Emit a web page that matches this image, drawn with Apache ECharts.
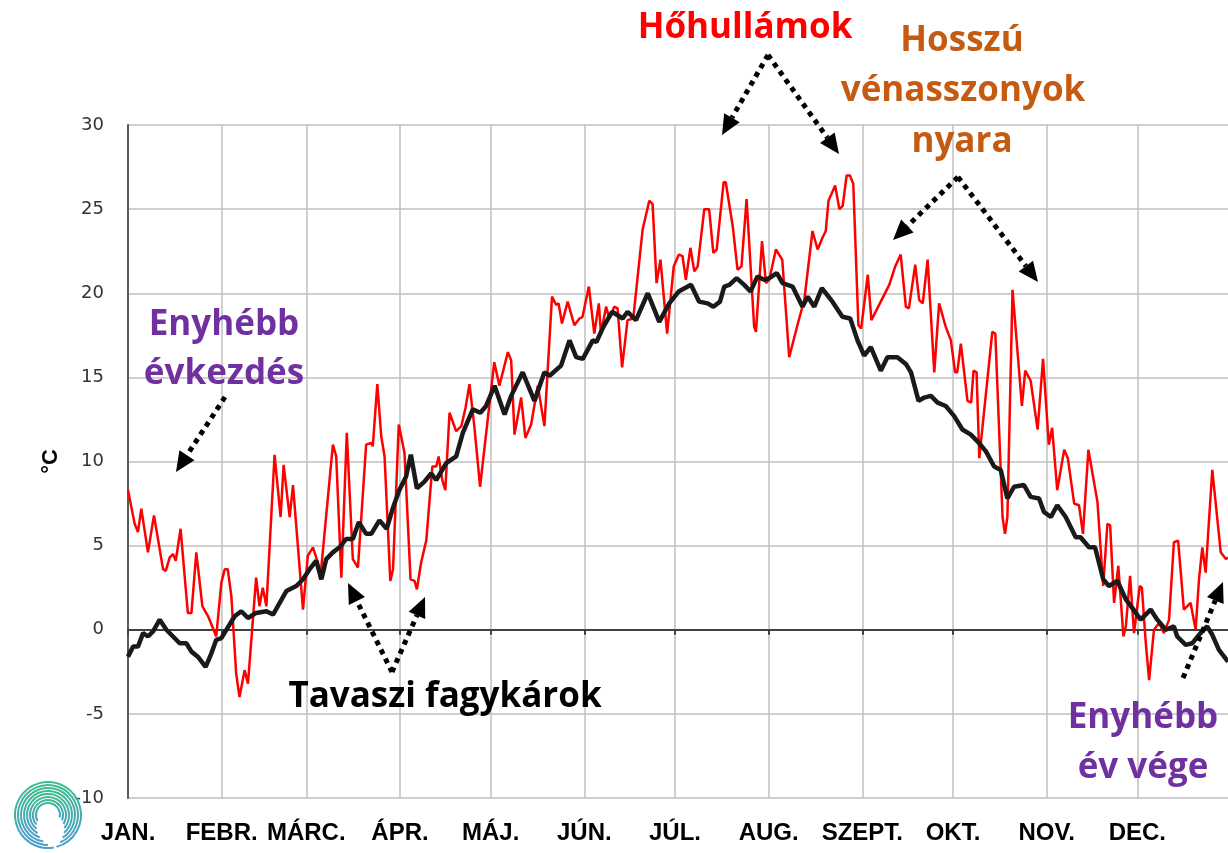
<!DOCTYPE html>
<html>
<head>
<meta charset="utf-8">
<title>Napi középhőmérséklet</title>
<script src="https://cdn.jsdelivr.net/npm/echarts@6/dist/echarts.min.js"></script>
<style>
  html, body { margin: 0; padding: 0; background: #fff; }
  #chart { width: 1228px; height: 853px; }
</style>
</head>
<body>
<div id="chart"></div>
<script>
// hónapok és kezdőnapjaik (az év napja, 0-tól)
const monthNames = ['JAN.', 'FEBR.', 'MÁRC.', 'ÁPR.', 'MÁJ.', 'JÚN.', 'JÚL.', 'AUG.', 'SZEPT.', 'OKT.', 'NOV.', 'DEC.'];
const monthStarts = [0, 31, 59, 90, 120, 151, 181, 212, 243, 273, 304, 334];
const yMin = -10, yMax = 30, yStep = 5;

// piros: az adott év napi középhőmérséklete [nap, °C]
const warmYear = [
  [0, 8.3], [2.2, 6.3], [3.3, 5.8], [4.4, 7.2], [6.6, 4.6], [8.6, 6.8], [11.6, 3.6], [12.5, 3.5],
  [13.8, 4.3], [14.9, 4.5], [15.8, 4.1], [17.4, 6.0], [19.8, 1.0], [21, 1.0], [22.6, 4.6], [24.6, 1.4],
  [26.5, 0.8], [27.2, 0.5], [29.2, -0.4], [30.9, 2.8], [32, 3.6], [33, 3.6], [34.2, 2.0], [35.8, -2.6],
  [36.9, -4.0], [38.6, -2.4], [39.7, -3.2], [42.4, 3.1], [43.5, 1.4], [44.6, 2.5], [45.8, 1.4], [48.5, 10.4],
  [50.5, 6.7], [51.5, 9.8], [53.5, 6.7], [54.6, 8.6], [57.9, 1.2], [59.5, 4.4], [61.2, 4.9], [62.8, 4.0],
  [63.6, 3.0], [67.8, 11.0], [68.9, 10.3], [70.6, 3.1], [72.4, 11.7], [74.4, 4.2], [76.1, 3.7], [78.8, 11.0],
  [80.5, 11.1], [81, 10.9], [82.5, 14.6], [83.8, 11.5], [84.9, 10.3], [86.8, 2.9], [87.7, 3.6], [89.6, 12.2],
  [91.5, 10.5], [93.5, 3.0], [94.8, 2.9], [95.6, 2.4], [97, 4.0], [98.7, 5.3], [100.7, 9.7], [102, 9.7],
  [102.8, 10.3], [104, 8.9], [105, 8.3], [106.4, 12.9], [108.6, 11.8], [110.3, 12.1], [111.7, 13.2], [113, 14.6],
  [114.6, 12.1], [116.5, 8.5], [121.2, 15.9], [122.9, 14.5], [125.7, 16.5], [126.8, 16.0], [127.9, 11.6], [130.1, 13.8],
  [131.5, 11.4], [133.4, 12.2], [135.6, 14.5], [137.8, 12.1], [140.3, 19.8], [141.7, 19.3], [142.5, 19.4], [143.6, 18.2],
  [145.5, 19.5], [147.7, 18.1], [149.4, 18.5], [150.4, 18.6], [152.5, 20.4], [154.3, 17.6], [155.8, 19.4], [156.5, 17.6],
  [158.2, 19.2], [159.3, 18.5], [160.9, 19.2], [162, 19.1], [163.5, 15.6], [165.3, 18.4], [167.2, 18.5], [170.3, 23.8],
  [172.5, 25.5], [173.6, 25.3], [174.9, 20.6], [176.2, 22.0], [178.4, 17.6], [180.6, 21.6], [182.3, 22.3], [183.5, 22.2],
  [184.6, 20.8], [186.1, 22.7], [187.4, 21.3], [188.5, 21.6], [190.7, 25.0], [192.3, 25.0], [193.7, 22.4], [194.8, 22.6],
  [197.1, 26.6], [197.8, 26.6], [200.1, 24.0], [201.7, 21.4], [203, 21.6], [204.7, 25.6], [207.2, 18.0], [207.8, 17.7],
  [209.8, 23.1], [211.1, 20.6], [212.2, 20.8], [214.4, 22.6], [216.5, 22.0], [218.8, 16.2], [222.1, 18.5], [223.8, 19.6],
  [226.5, 23.7], [228.2, 22.6], [229.8, 23.3], [230.9, 23.7], [231.8, 25.5], [234, 26.4], [235.4, 25.0], [236.5, 25.2],
  [237.8, 27.0], [238.9, 27.0], [240, 26.5], [241.7, 18.1], [242.6, 17.9], [244.8, 21.1], [246, 18.4], [249.1, 19.5],
  [251.9, 20.5], [253.9, 21.6], [255.7, 22.3], [257.4, 19.2], [258.4, 19.1], [260.5, 21.7], [261.8, 19.6], [263, 19.4],
  [264.6, 22.0], [266.8, 15.3], [268.4, 19.4], [270.6, 18.0], [272.3, 17.2], [273.7, 15.3], [274.4, 15.3], [275.6, 17.0],
  [277.8, 13.6], [279, 13.5], [279.8, 15.4], [280.8, 15.3], [281.7, 10.2], [286, 17.7], [287, 17.6], [289.4, 6.7],
  [290.2, 5.7], [291, 6.7], [292.7, 20.2], [295.8, 13.3], [296.9, 15.4], [298.7, 14.8], [301, 11.9], [302.8, 16.1],
  [304.7, 11.0], [305.8, 12.0], [307.5, 8.3], [309.8, 10.7], [311, 10.2], [313.1, 7.5], [314.7, 7.4], [316, 5.7],
  [317.8, 10.7], [320.8, 7.6], [322.7, 2.6], [324.1, 6.3], [325, 6.2], [326.3, 1.6], [327.7, 3.8], [329.4, -0.4],
  [330.2, 0.2], [331.6, 3.2], [332.9, -0.2], [334.8, 2.6], [335.5, 2.5], [336.8, -0.8], [337.9, -3.0], [339.5, 0],
  [341.2, 0.4], [342.8, -0.2], [344.5, 0.6], [346.1, 5.2], [347.5, 5.3], [349.4, 1.2], [351.6, 1.6], [353.3, 0],
  [354.4, 3.0], [355.5, 4.9], [356.6, 3.4], [358.8, 9.5], [361.6, 4.6], [363.3, 4.2], [364, 4.3]
];

// fekete: sokéves átlag [nap, °C]
const normal = [
  [0, -1.6], [1.7, -1.0], [3.3, -1.0], [5, -0.2], [6.6, -0.4], [8.3, -0.1], [10.5, 0.6], [12.7, 0],
  [14.9, -0.4], [17.1, -0.8], [19.3, -0.8], [21, -1.3], [23.1, -1.6], [25.7, -2.2], [27.6, -1.4], [29.2, -0.6],
  [30.9, -0.5], [33.6, 0.3], [35.3, 0.8], [37.5, 1.1], [39.7, 0.7], [42.4, 1.0], [45.8, 1.1], [48, 0.9],
  [50.2, 1.6], [52.4, 2.3], [55.7, 2.6], [57.9, 3.0], [60.1, 3.6], [62.3, 4.1], [64, 3.0], [65.6, 4.2],
  [67.8, 4.6], [70, 4.9], [72.2, 5.4], [74.4, 5.4], [76.4, 6.4], [78.8, 5.7], [80.5, 5.7], [83.2, 6.5],
  [85.6, 6.0], [87.6, 7.2], [89.8, 8.3], [92, 9.1], [93.6, 10.4], [95.6, 8.4], [98.1, 8.8], [100.3, 9.3],
  [102, 8.9], [105.3, 9.9], [108.6, 10.3], [110.8, 11.7], [114.1, 13.1], [116.6, 12.9], [118.5, 13.3], [121.3, 14.5],
  [124.6, 12.8], [126.8, 13.9], [130.6, 15.3], [134.5, 13.6], [137.8, 15.3], [139.5, 15.1], [143.3, 15.7], [146.1, 17.2],
  [148.3, 16.2], [150.5, 16.1], [153.8, 17.2], [155, 17.1], [157.3, 18.0], [160.2, 18.9], [163.7, 18.5], [165.3, 18.9],
  [168.1, 18.4], [172, 20.0], [175.8, 18.3], [179.1, 19.4], [182.2, 20.1], [186.3, 20.5], [189, 19.5], [191.8, 19.4],
  [193.7, 19.2], [195.9, 19.5], [197.3, 20.4], [199, 20.5], [201.4, 20.9], [203.9, 20.5], [206, 20.1], [208.3, 21.0],
  [210.5, 20.8], [212.2, 20.9], [214.7, 21.2], [216.6, 20.6], [219.9, 20.4], [223.2, 19.2], [224.9, 19.8], [227.1, 19.2],
  [229.6, 20.3], [233.1, 19.5], [236.4, 18.6], [239, 18.5], [241.4, 17.2], [243.6, 16.3], [245.8, 16.8], [249.1, 15.4],
  [251.3, 16.2], [254.6, 16.2], [257.4, 15.8], [259.1, 15.3], [261.6, 13.6], [263.5, 13.8], [265.7, 13.9], [267.9, 13.5],
  [270.6, 13.3], [273.4, 12.7], [276.1, 11.9], [278.9, 11.6], [281.6, 11.1], [283.9, 10.6], [286.6, 9.7], [288.8, 9.5],
  [291, 7.8], [293.2, 8.5], [296.5, 8.6], [298.7, 7.9], [301.5, 7.8], [303.1, 7.0], [305.4, 6.7], [307.5, 7.4],
  [310.3, 6.7], [313.6, 5.5], [315.2, 5.5], [318, 4.9], [320, 4.9], [322.7, 3.0], [324.6, 2.6], [327.4, 2.9],
  [330.2, 1.8], [332.3, 1.3], [335.1, 0.6], [338.4, 1.2], [340.6, 0.6], [343.4, 0], [346.1, 0.2], [347.2, -0.4],
  [350, -0.9], [352.2, -0.8], [354.9, -0.2], [357.1, 0.2], [358.8, -0.3], [361, -1.2], [364, -1.9]
];

// kategóriák a tengelyhez: 365 nap, a hónap első napján a hónap neve
const days = [];
for (let i = 0; i < 365; i++) {
  const m = monthStarts.indexOf(i);
  days.push(m >= 0 ? monthNames[m] : String(i));
}
const isMonthStart = (idx) => monthStarts.indexOf(idx) >= 0;

// szaggatott nyíl
function arrow(x1, y1, x2, y2) {
  const a = Math.atan2(y2 - y1, x2 - x1);
  const len = 20, half = 9;
  const bx = x2 - len * Math.cos(a), by = y2 - len * Math.sin(a);
  const sx = half * Math.sin(a), sy = half * Math.cos(a);
  return [
    { type: 'line', shape: { x1: x1, y1: y1, x2: bx, y2: by },
      style: { stroke: '#000', lineWidth: 5, lineDash: [5, 5] }, z: 10 },
    { type: 'polygon', shape: { points: [[x2, y2], [bx + sx, by - sy], [bx - sx, by + sy]] },
      style: { fill: '#000' }, z: 10 }
  ];
}

function label(text, x, y, color) {
  return {
    type: 'text', z: 10,
    style: {
      text: text, x: x, y: y, fill: color,
      font: 'bold 35px "Open Sans"',
      align: 'center', verticalAlign: 'middle',
      textAlign: 'center', textVerticalAlign: 'middle'
    }
  };
}

// logó: egymásba csavarodó ívek (C alak, jobbra nyitott belső résszel)
function logo() {
  const els = [];
  const deg = Math.PI / 180;
  for (let i = 0; i < 8; i++) {
    const r = 12 + i * 3;
    els.push({
      type: 'arc', z: 1,
      shape: { cx: 48, cy: 815, r: r, startAngle: (12 + i * 9) * deg, endAngle: (150 - i * 10) * deg, clockwise: false },
      style: {
        fill: null, lineWidth: 2,
        stroke: new echarts.graphic.LinearGradient(0, 0, 0, 1, [
          { offset: 0, color: '#3fbd8c' }, { offset: 1, color: '#4a9ccf' }
        ])
      }
    });
  }
  return els;
}

const chart = echarts.init(document.getElementById('chart'));

const graphics = [].concat(
  logo(),
  [
    label('Hőhullámok', 745, 28, '#ff0000'),
    label('Hosszú', 962, 41, '#c55a11'),
    label('vénasszonyok', 963, 91, '#c55a11'),
    label('nyara', 962, 142, '#c55a11'),
    label('Enyhébb', 224, 325, '#7030a0'),
    label('évkezdés', 224, 374, '#7030a0'),
    label('Tavaszi fagykárok', 445, 697, '#000'),
    label('Enyhébb', 1143, 718, '#7030a0'),
    label('év vége', 1143, 768, '#7030a0')
  ],
  arrow(768, 55, 722, 135),
  arrow(768, 55, 839, 154),
  arrow(958, 177, 893, 240),
  arrow(958, 177, 1038, 282),
  arrow(225, 397, 176, 472),
  arrow(392, 672, 348, 583),
  arrow(392, 672, 425, 597),
  arrow(1183, 678, 1223, 582)
);

chart.setOption({
  backgroundColor: '#fff',
  animation: false,
  grid: { left: 128, right: 0, top: 125, bottom: 55 },
  xAxis: [
    {
      // hónapnevek alul + függőleges rácsvonalak
      type: 'category', data: days, boundaryGap: false, position: 'bottom',
      axisLine: { show: false, onZero: false },
      axisTick: { show: false },
      axisLabel: {
        interval: isMonthStart, margin: 23,
        fontFamily: '"Liberation Sans", Arial, sans-serif', fontWeight: 'bold', fontSize: 24, color: '#000'
      },
      splitLine: { show: true, interval: isMonthStart, lineStyle: { color: '#bfbfbf', width: 1.5 } }
    },
    {
      // a 0 °C-os tengelyvonal
      type: 'category', data: days, boundaryGap: false, position: 'bottom',
      axisLine: { show: true, onZero: true, lineStyle: { color: '#404040', width: 2 } },
      axisTick: { show: true, interval: isMonthStart, length: 5, lineStyle: { color: '#404040', width: 2 } },
      axisLabel: { show: false },
      splitLine: { show: false }
    },
    {
      type: 'value', min: 0, max: 364, show: false
    }
  ],
  yAxis: {
    type: 'value', min: yMin, max: yMax, interval: yStep,
    name: '°C', nameLocation: 'middle', nameRotate: 90, nameGap: 66,
    nameTextStyle: { fontFamily: '"Liberation Sans", Arial, sans-serif', fontWeight: 'bold', fontSize: 22, color: '#000' },
    axisLine: { show: true, lineStyle: { color: '#595959', width: 2 } },
    axisTick: { show: false },
    axisLabel: { margin: 24, fontFamily: '"DejaVu Sans", Verdana, sans-serif', fontSize: 18, color: '#333' },
    splitLine: { show: true, lineStyle: { color: '#bfbfbf', width: 1.5 } }
  },
  series: [
    {
      name: 'év', type: 'line', xAxisIndex: 2, data: warmYear,
      showSymbol: false, symbol: 'none', z: 3,
      lineStyle: { color: '#ff0000', width: 2.5 }
    },
    {
      name: 'átlag', type: 'line', xAxisIndex: 2, data: normal,
      showSymbol: false, symbol: 'none', z: 4,
      lineStyle: { color: '#1a1a1a', width: 4.5 }
    }
  ],
  graphic: graphics
});
</script>
</body>
</html>
